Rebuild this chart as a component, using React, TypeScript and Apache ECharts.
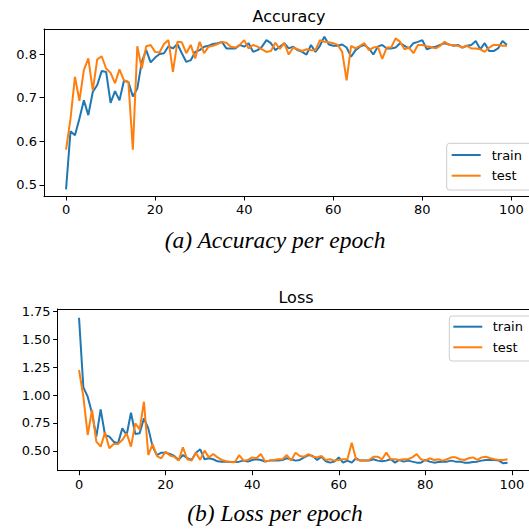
import React, { useEffect, useRef } from "react";
import * as echarts from "echarts";

const epochs: number[] = Array.from({ length: 100 }, (_, i) => i);

const accTrain: number[] = [
  0.49, 0.623, 0.614, 0.652, 0.694, 0.66, 0.713, 0.729, 0.761, 0.759,
  0.688, 0.715, 0.694, 0.739, 0.736, 0.703, 0.721, 0.782, 0.809, 0.781,
  0.792, 0.8, 0.802, 0.818, 0.813, 0.823, 0.802, 0.782, 0.786, 0.805,
  0.809, 0.817, 0.819, 0.823, 0.825, 0.828, 0.813, 0.813, 0.813, 0.821,
  0.817, 0.825, 0.805, 0.809, 0.817, 0.832, 0.825, 0.809, 0.817, 0.825,
  0.813, 0.817, 0.809, 0.805, 0.799, 0.821, 0.805, 0.819, 0.84, 0.822,
  0.819, 0.819, 0.822, 0.815, 0.794, 0.809, 0.817, 0.821, 0.813, 0.799,
  0.817, 0.821, 0.813, 0.813, 0.815, 0.825, 0.819, 0.813, 0.825, 0.828,
  0.832, 0.811, 0.815, 0.817, 0.821, 0.825, 0.822, 0.819, 0.821, 0.815,
  0.819, 0.821, 0.83, 0.811, 0.825, 0.807, 0.807, 0.813, 0.83, 0.821,
];

const accTest: number[] = [
  0.581, 0.652, 0.748, 0.693, 0.763, 0.79, 0.717, 0.788, 0.795, 0.767,
  0.757, 0.733, 0.765, 0.74, 0.736, 0.581, 0.818, 0.767, 0.818, 0.821,
  0.805, 0.804, 0.823, 0.832, 0.759, 0.828, 0.827, 0.802, 0.821, 0.79,
  0.828, 0.802, 0.817, 0.819, 0.823, 0.828, 0.826, 0.817, 0.815, 0.821,
  0.832, 0.813, 0.821, 0.817, 0.811, 0.805, 0.807, 0.826, 0.812, 0.825,
  0.799, 0.815, 0.811, 0.807, 0.811, 0.809, 0.809, 0.832, 0.828, 0.827,
  0.825, 0.821, 0.805, 0.74, 0.819, 0.813, 0.819, 0.825, 0.809, 0.815,
  0.817, 0.789, 0.815, 0.815, 0.836, 0.828, 0.811, 0.815, 0.802, 0.821,
  0.821, 0.818, 0.816, 0.813, 0.819, 0.828, 0.821, 0.821, 0.819, 0.815,
  0.819, 0.813, 0.813, 0.811, 0.805, 0.815, 0.821, 0.821, 0.819, 0.819,
];

const lossTrain: number[] = [
  1.69, 1.068, 0.985, 0.836, 0.628, 0.872, 0.643, 0.628, 0.583, 0.568,
  0.702, 0.643, 0.842, 0.652, 0.658, 0.792, 0.702, 0.539, 0.464, 0.485,
  0.485, 0.473, 0.455, 0.42, 0.464, 0.435, 0.42, 0.485, 0.515, 0.426,
  0.435, 0.426, 0.408, 0.405, 0.405, 0.402, 0.402, 0.405, 0.414, 0.405,
  0.42, 0.426, 0.42, 0.405, 0.414, 0.414, 0.414, 0.42, 0.435, 0.426,
  0.414, 0.42, 0.443, 0.464, 0.455, 0.42, 0.449, 0.408, 0.396, 0.405,
  0.443, 0.396, 0.414, 0.396, 0.435, 0.414, 0.414, 0.414, 0.426, 0.414,
  0.408, 0.414, 0.426, 0.396, 0.42, 0.405, 0.414, 0.405, 0.396, 0.396,
  0.42, 0.405, 0.396, 0.402, 0.405, 0.405, 0.414, 0.405, 0.405, 0.396,
  0.396, 0.402, 0.405, 0.414, 0.42, 0.42, 0.42, 0.414, 0.39, 0.396,
];

const lossTest: number[] = [
  1.223, 0.985, 0.643, 0.866, 0.583, 0.539, 0.664, 0.524, 0.562, 0.562,
  0.598, 0.658, 0.539, 0.747, 0.693, 0.94, 0.464, 0.562, 0.455, 0.435,
  0.494, 0.46, 0.449, 0.414, 0.533, 0.426, 0.414, 0.485, 0.42, 0.503,
  0.443, 0.473, 0.443, 0.42, 0.408, 0.402, 0.399, 0.464, 0.414, 0.42,
  0.443, 0.435, 0.473, 0.405, 0.414, 0.42, 0.426, 0.426, 0.464, 0.414,
  0.485, 0.455, 0.449, 0.473, 0.449, 0.443, 0.455, 0.42, 0.426, 0.414,
  0.42, 0.426, 0.426, 0.574, 0.426, 0.414, 0.414, 0.42, 0.449, 0.449,
  0.426, 0.485, 0.426, 0.426, 0.42, 0.426, 0.426, 0.443, 0.473, 0.426,
  0.414, 0.435, 0.42, 0.426, 0.414, 0.426, 0.443, 0.443, 0.426, 0.42,
  0.435, 0.443, 0.42, 0.443, 0.449, 0.435, 0.426, 0.42, 0.42, 0.426,
];

const xTicks: number[] = [0, 20, 40, 60, 80, 100];
const accTicks: number[] = [0.5, 0.6, 0.7, 0.8];
const lossTicks: number[] = [0.5, 0.75, 1.0, 1.25, 1.5, 1.75];
const seriesNames: string[] = ["train", "test"];
const titles: string[] = ["Accuracy", "Loss"];
const captions: string[] = ["(a) Accuracy per epoch", "(b) Loss per epoch"];

const BLUE = "#1f77b4";
const ORANGE = "#ff7f0e";
const FONT = "DejaVu Sans";

const X_MIN = -4.95;
const X_MAX = 103.95;

function xAxisCfg(gridIndex: number) {
  return {
    type: "value",
    gridIndex,
    position: "bottom",
    min: X_MIN,
    max: X_MAX,
    axisLine: { show: true, onZero: false, lineStyle: { color: "#000", width: 1 } },
    axisTick: { show: true, customValues: xTicks, length: 4.5, lineStyle: { color: "#000", width: 1 } },
    axisLabel: { show: true, customValues: xTicks, color: "#000", fontSize: 13, fontFamily: FONT, margin: 7 },
    splitLine: { show: false },
  };
}

function xFrameCfg(gridIndex: number) {
  return {
    type: "value",
    gridIndex,
    position: "top",
    min: X_MIN,
    max: X_MAX,
    axisLine: { show: true, onZero: false, lineStyle: { color: "#000", width: 1 } },
    axisTick: { show: false },
    axisLabel: { show: false },
    splitLine: { show: false },
  };
}

function yAxisCfg(gridIndex: number, min: number, max: number, ticks: number[], digits: number) {
  return {
    type: "value",
    gridIndex,
    position: "left",
    min,
    max,
    axisLine: { show: true, onZero: false, lineStyle: { color: "#000", width: 1 } },
    axisTick: { show: true, customValues: ticks, length: 4.5, lineStyle: { color: "#000", width: 1 } },
    axisLabel: {
      show: true,
      customValues: ticks,
      color: "#000",
      fontSize: 13,
      fontFamily: FONT,
      margin: 7,
      formatter: (v: number) => v.toFixed(digits),
    },
    splitLine: { show: false },
  };
}

function lineSeries(name: string, data: number[], color: string, idx: number) {
  return {
    type: "line",
    name,
    xAxisIndex: idx * 2,
    yAxisIndex: idx,
    data: data.map((v, i) => [epochs[i], v]),
    showSymbol: false,
    symbol: "none",
    lineStyle: { color, width: 2 },
    itemStyle: { color },
    z: color === ORANGE ? 3 : 2,
  };
}

function legendGroup(x: number, y: number, w: number, h: number, row1: number, row2: number, lineX: number, textX: number) {
  return {
    type: "group",
    children: [
      {
        type: "rect",
        shape: { x, y, width: w, height: h, r: 3 },
        style: { fill: "rgba(255,255,255,0.8)", stroke: "#cccccc", lineWidth: 1 },
        z: 10,
      },
      { type: "line", shape: { x1: lineX, y1: row1, x2: lineX + 29, y2: row1 }, style: { stroke: BLUE, lineWidth: 2 }, z: 11 },
      { type: "line", shape: { x1: lineX, y1: row2, x2: lineX + 29, y2: row2 }, style: { stroke: ORANGE, lineWidth: 2 }, z: 11 },
      { type: "text", x: textX, y: row1, style: { text: seriesNames[0], fontSize: 13, fontFamily: FONT, fill: "#000", verticalAlign: "middle" }, z: 11 },
      { type: "text", x: textX, y: row2, style: { text: seriesNames[1], fontSize: 13, fontFamily: FONT, fill: "#000", verticalAlign: "middle" }, z: 11 },
    ],
  };
}

export default function App() {
  const ref = useRef<HTMLDivElement>(null);
  useEffect(() => {
    if (!ref.current) return;
    const chart = echarts.init(ref.current, null, { renderer: "svg" });
    chart.setOption({
      animation: false,
      backgroundColor: "#fff",
      textStyle: { fontFamily: FONT },
      grid: [
        { left: 44, top: 29, width: 490, height: 167 },
        { left: 57.6, top: 309, width: 477.4, height: 161.7 },
      ],
      xAxis: [xAxisCfg(0), xFrameCfg(0), xAxisCfg(1), xFrameCfg(1)],
      yAxis: [
        yAxisCfg(0, 0.4747, 0.8575, accTicks, 1),
        yAxisCfg(1, 0.324, 1.768, lossTicks, 2),
      ],
      series: [
        lineSeries(seriesNames[0], accTrain, BLUE, 0),
        lineSeries(seriesNames[1], accTest, ORANGE, 0),
        lineSeries(seriesNames[0], lossTrain, BLUE, 1),
        lineSeries(seriesNames[1], lossTest, ORANGE, 1),
      ],
      graphic: [
        { type: "text", x: 289, y: 16, style: { text: titles[0], fontSize: 16, fontFamily: FONT, fill: "#000", align: "center", verticalAlign: "middle" } },
        { type: "text", x: 296, y: 297, style: { text: titles[1], fontSize: 16, fontFamily: FONT, fill: "#000", align: "center", verticalAlign: "middle" } },
        { type: "text", x: 275, y: 240, style: { text: captions[0], fontSize: 23.5, fontStyle: "italic", fontFamily: "Liberation Serif", fill: "#000", align: "center", verticalAlign: "middle" } },
        { type: "text", x: 275, y: 513, style: { text: captions[1], fontSize: 23.5, fontStyle: "italic", fontFamily: "Liberation Serif", fill: "#000", align: "center", verticalAlign: "middle" } },
        legendGroup(446.7, 143.3, 90, 46.7, 155, 175.7, 451.7, 491.7),
        legendGroup(449.3, 316, 90, 45, 326.7, 347.3, 453.3, 492.7),
      ],
    });
    return () => chart.dispose();
  }, []);
  return <div ref={ref} style={{ position: "fixed", left: 0, top: 0, width: 529, height: 532 }} />;
}
